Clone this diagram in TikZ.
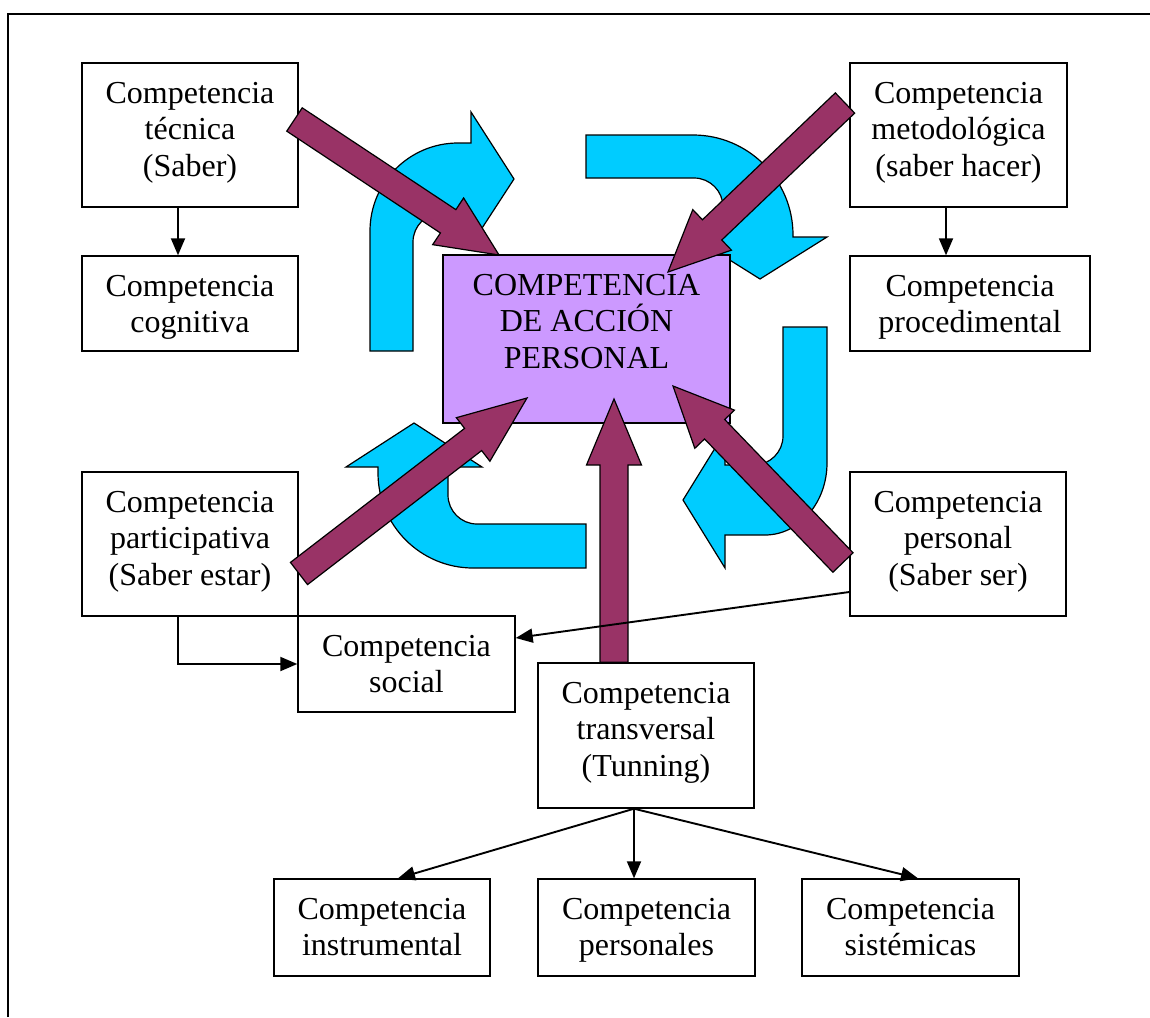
\documentclass[tikz,border=0pt]{standalone}
\usepackage{fontspec}
\setmainfont{Liberation Serif}
\usetikzlibrary{calc,arrows.meta}
\definecolor{cyanfill}{HTML}{00CCFF}
\definecolor{maroonfill}{HTML}{993366}
\definecolor{purplefill}{HTML}{CC99FF}
\newcommand\fatarrow[5]{%
  \coordinate (fabase) at ($(#2)!#5!(#1)$);
  \draw[fat] ($(#1)!#3!90:(#2)$) -- ($(fabase)!#3!90:(#2)$) -- ($(fabase)!#4!90:(#2)$) -- (#2)
    -- ($(fabase)!#4!-90:(#2)$) -- ($(fabase)!#3!-90:(#2)$) -- ($(#1)!#3!-90:(#2)$) -- cycle;}
% box text: width, height, lines (top anchored)
\newcommand\bxt[3]{\parbox[c][#2][t]{#1}{\centering\rule{0pt}{40pt}#3}}
\tikzset{
  box/.style={draw, line width=1.4pt, fill=white, inner sep=0pt,
    font=\fontsize{32}{36.6}\selectfont},
  conn/.style={line width=1.9pt, -{Triangle[length=17pt,width=14pt]}},
  cyanshape/.style={fill=cyanfill, draw=black, line width=1.2pt},
  fat/.style={fill=maroonfill, draw=black, line width=1.2pt}
}
\begin{document}
\begin{tikzpicture}[x=1pt,y=-1pt]
\useasboundingbox (0,0) rectangle (1150,1017);
\draw[line width=1.4pt] (8,1017) -- (8,14) -- (1150,14);

% cyan curved arrows
\draw[cyanshape] (370,351) -- (370,231) .. controls (370,182.4) and (409.4,143) .. (458,143)
  -- (471,143) -- (471,112) -- (514,179) -- (471,245) -- (471,213) -- (442,213)
  .. controls (426,213) and (413,226) .. (413,242) -- (413,351) -- cycle;
\draw[cyanshape] (586,135) -- (693,135) .. controls (748.2,135) and (793,179.8) .. (793,235)
  -- (793,237) -- (827,237) -- (760,279) -- (693,237) -- (723,237) -- (723,207)
  .. controls (723,191) and (710,178) .. (694,178) -- (586,178) -- cycle;
\draw[cyanshape] (586,524) -- (477,524) .. controls (461,524) and (448,511) .. (448,495)
  -- (448,467) -- (482,467) -- (414,423) -- (346,467) -- (378,467) -- (378,473)
  .. controls (378,525.4) and (420.6,568) .. (473,568) -- (586,568) -- cycle;
\draw[cyanshape] (783,327) -- (827,327) -- (827,463) .. controls (827,502.7) and (799.2,535) .. (765,535)
  -- (725,535) -- (725,568) -- (683,500) -- (725,432) -- (725,465) -- (754,465)
  .. controls (770,465) and (783,452) .. (783,436) -- cycle;

% boxes
\node[box] (tec) at (190,135) {\bxt{216pt}{144pt}{Competencia\\técnica\\(Saber)}};
\node[box] (cog) at (190,303.5) {\bxt{216pt}{95pt}{Competencia\\cognitiva}};
\node[box] (met) at (958.5,135) {\bxt{217pt}{144pt}{Competencia\\metodológica\\(saber hacer)}};
\node[box] (proc) at (970,303.5) {\bxt{240pt}{95pt}{Competencia\\procedimental}};
\node[box, fill=purplefill] (acc) at (586.5,339) {\bxt{287pt}{168pt}{COMPETENCIA\\DE ACCIÓN\\PERSONAL}};
\node[box] (par) at (190,544) {\bxt{216pt}{144pt}{Competencia\\participativa\\(Saber estar)}};
\node[box] (per) at (958,544) {\bxt{216pt}{144pt}{Competencia\\personal\\(Saber ser)}};
\node[box] (soc) at (406.5,664) {\bxt{217pt}{96pt}{Competencia\\social}};
\node[box] (tra) at (646,735.5) {\bxt{216pt}{145pt}{Competencia\\transversal\\(Tunning)}};
\node[box] (ins) at (382,927.5) {\bxt{216pt}{97pt}{\rule{0pt}{2pt}Competencia\\instrumental}};
\node[box] (pes) at (646.5,927.5) {\bxt{217pt}{97pt}{\rule{0pt}{2pt}Competencia\\personales}};
\node[box] (sis) at (910.5,927.5) {\bxt{217pt}{97pt}{\rule{0pt}{2pt}Competencia\\sistémicas}};

% maroon block arrows
\coordinate (t1) at (294.5,119.5); \coordinate (h1) at (499,255);
\coordinate (t2) at (845,103);     \coordinate (h2) at (668,272);
\coordinate (t3) at (299,573.5);   \coordinate (h3) at (527,398);
\coordinate (t4) at (843,562.5);   \coordinate (h4) at (673,386);
\coordinate (t5) at ([xshift=-32pt]tra.north); \coordinate (h5) at (614,399);
\fatarrow{t1}{h1}{14pt}{28pt}{61pt}
\fatarrow{t2}{h2}{14pt}{28pt}{61pt}
\fatarrow{t3}{h3}{14pt}{27.5pt}{68pt}
\fatarrow{t4}{h4}{14pt}{27.5pt}{60pt}
\fatarrow{t5}{h5}{14pt}{27.5pt}{66pt}

% connectors
\draw[conn] ([xshift=-12pt]tec.south) -- ([xshift=-12pt]cog.north);
\draw[conn] ([xshift=-12.5pt]met.south) -- ([xshift=-12.5pt]met.south |- proc.north);
\draw[conn] ([xshift=-12pt]par.south) |- (soc.west);
\draw[conn] ([yshift=-48pt]per.west) -- ([yshift=26pt]soc.east);
\coordinate (fork) at ([xshift=-12pt]tra.south);
\draw[conn] (fork) -- ([xshift=16pt]ins.north);
\draw[conn] (fork) -- (fork |- pes.north);
\draw[conn] (fork) -- ([xshift=7.5pt]sis.north);
\end{tikzpicture}
\end{document}
